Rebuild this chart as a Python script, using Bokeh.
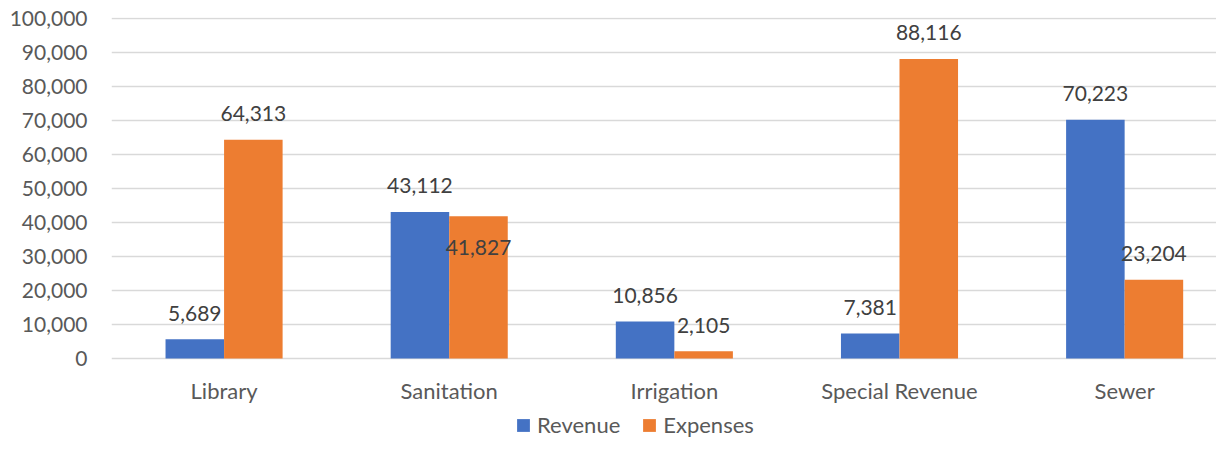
from bokeh.plotting import figure
from bokeh.models import (ColumnDataSource, Range1d, FixedTicker, NumeralTickFormatter,
                          Legend, LegendItem)
from bokeh.transform import dodge
from bokeh.core.properties import value
from bokeh.embed import file_html
from bokeh.resources import INLINE

# ---- data ----
categories = ["Library", "Sanitation", "Irrigation", "Special Revenue", "Sewer"]
revenue = [5689, 43112, 10856, 7381, 70223]
expenses = [64313, 41827, 2105, 88116, 23204]
y_ticks = [0, 10000, 20000, 30000, 40000, 50000, 60000, 70000, 80000, 90000, 100000]

# label placement tweaks (pixels): Excel moved one label down to avoid overlap
rev_label_dy = [-26, -26, -26, -26, -26]
exp_label_dy = [-26, 31, -26, -26, -26]

idx = list(range(len(categories)))
src = ColumnDataSource(dict(
    x=idx,
    cat=categories,
    base=[0] * len(categories),
    revenue=revenue,
    expenses=expenses,
    rev_txt=[f"{v:,}" for v in revenue],
    exp_txt=[f"{v:,}" for v in expenses],
    rev_dy=rev_label_dy,
    exp_dy=exp_label_dy,
))

FONT = "Lato"
BLUE = "#4472C4"
ORANGE = "#ED7D31"
GREY = "#595959"

# frame runs to the bottom of the canvas so the category labels and legend sit inside it
p = figure(width=1216, height=438, output_backend="svg", toolbar_location=None,
           x_range=Range1d(-0.5, 4.408), y_range=Range1d(-23524, 100300),
           x_axis_location=None,
           min_border_left=111, min_border_right=0, min_border_top=17,
           min_border_bottom=0)
p.outline_line_color = None
p.background_fill_color = "white"
p.border_fill_color = "white"

bw = 0.26
r_rev = p.vbar(x=dodge("x", -bw / 2, range=p.x_range), top="revenue", width=bw, bottom=0,
               source=src, fill_color=BLUE, line_color=None)
r_exp = p.vbar(x=dodge("x", bw / 2, range=p.x_range), top="expenses", width=bw, bottom=0,
               source=src, fill_color=ORANGE, line_color=None)

p.text(x=dodge("x", -bw / 2, range=p.x_range), y="revenue", text="rev_txt",
       y_offset="rev_dy", source=src, text_align="center", text_baseline="alphabetic",
       text_font=value(FONT), text_font_size="21px", text_color="#404040")
p.text(x=dodge("x", bw / 2, range=p.x_range), y="expenses", text="exp_txt",
       y_offset="exp_dy", source=src, text_align="center", text_baseline="alphabetic",
       text_font=value(FONT), text_font_size="21px", text_color="#404040")

# category labels under the baseline
p.text(x="x", y="base", text="cat", y_offset=32, source=src, text_align="center",
       text_baseline="alphabetic", text_font=value(FONT), text_font_size="22px",
       text_color=GREY)

# axes
p.xgrid.grid_line_color = None
p.ygrid.grid_line_color = "#d9d9d9"
p.ygrid.grid_line_width = 1.6
p.ygrid.ticker = FixedTicker(ticks=y_ticks)

p.yaxis.ticker = FixedTicker(ticks=y_ticks)
p.yaxis.formatter = NumeralTickFormatter(format="0,0")
p.yaxis.axis_line_color = None
p.yaxis.major_tick_line_color = None
p.yaxis.minor_tick_line_color = None
p.yaxis.major_tick_out = 0
p.yaxis.major_label_standoff = 24
p.yaxis.major_label_text_font = FONT
p.yaxis.major_label_text_font_size = "21px"
p.yaxis.major_label_text_color = GREY

# legend
lg = Legend(items=[LegendItem(label="Revenue", renderers=[r_rev]),
                   LegendItem(label="Expenses", renderers=[r_exp])],
            orientation="horizontal", location=(404, 0))
lg.padding = 0
lg.margin = 0
lg.spacing = 21
lg.border_line_alpha = 0
lg.background_fill_alpha = 0
lg.glyph_width = 16
lg.glyph_height = 16
lg.label_standoff = 6
lg.label_text_font = FONT
lg.label_text_font_size = "22px"
lg.label_text_color = GREY
p.add_layout(lg, "center")

open("out.html", "w").write(file_html(p, INLINE))
